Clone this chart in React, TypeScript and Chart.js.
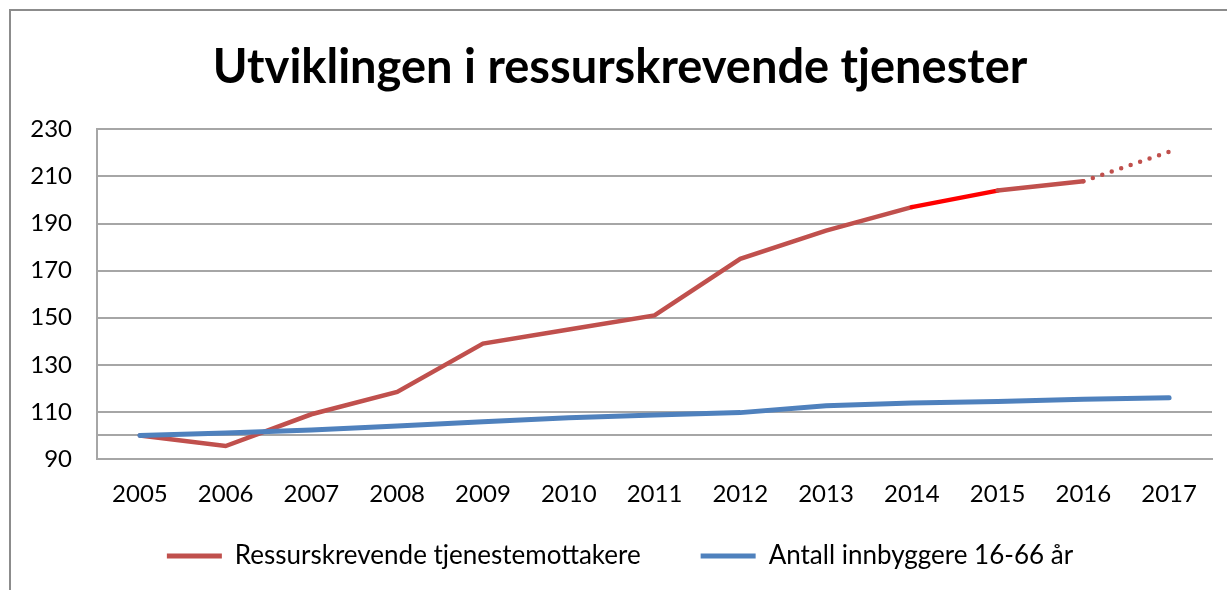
import React, { useEffect, useRef } from "react";
import { Chart, registerables } from "chart.js";

Chart.register(...registerables);

const years = ["2005", "2006", "2007", "2008", "2009", "2010", "2011", "2012", "2013", "2014", "2015", "2016", "2017"];
const ressurskrevende = [100, 95.5, 109, 118.5, 139, 145, 151, 175, 187, 197, 204, 208, 220.5];
const innbyggere = [100, 101, 102.3, 104, 105.8, 107.5, 108.7, 109.7, 112.6, 113.8, 114.4, 115.4, 116];
const yTicks = [90, 100, 110, 130, 150, 170, 190, 210, 230];
const yLabels = ["90", "", "110", "130", "150", "170", "190", "210", "230"];

const titleText = "Utviklingen i ressurskrevende tjenester";
const redName = "Ressurskrevende tjenestemottakere";
const blueName = "Antall innbyggere 16-66 år";

const RED = "#C0504D";
const BRIGHT_RED = "#FF0000";
const BLUE = "#4F81BD";
const GRID = "#A6A6A6";
const FONT = "Lato, 'Noto Sans', sans-serif";

export default function App() {
  const ref = useRef<HTMLCanvasElement | null>(null);
  useEffect(() => {
    if (!ref.current) return;
    const chart = new Chart(ref.current, {
      type: "line",
      data: {
        labels: years,
        datasets: [
          {
            label: redName,
            data: ressurskrevende,
            borderColor: RED,
            backgroundColor: RED,
            borderWidth: 4.5,
            pointRadius: 0,
            tension: 0,
            borderCapStyle: "round",
            order: 1,
            segment: {
              borderColor: (c: any) => (c.p0DataIndex === 9 ? BRIGHT_RED : undefined),
              borderDash: (c: any) => (c.p0DataIndex === 11 ? [0, 10] : undefined),
            },
          },
          {
            label: blueName,
            data: innbyggere,
            borderColor: BLUE,
            backgroundColor: BLUE,
            borderWidth: 5,
            pointRadius: 0,
            tension: 0,
            borderCapStyle: "round",
            order: 0,
          },
        ],
      },
      options: {
        animation: false,
        responsive: false,
        layout: { padding: { left: 17, right: 15, top: 0, bottom: 11 } },
        plugins: {
          tooltip: { enabled: false },
          title: {
            display: true,
            text: titleText,
            color: "#000",
            font: { family: FONT, size: 47, weight: "bold" },
            padding: { top: 29, bottom: 33 },
          },
          legend: {
            position: "bottom",
            labels: {
              color: "#000",
              font: { family: FONT, size: 26 },
              boxWidth: 55,
              boxHeight: 5,
              padding: 20,
              generateLabels: (ch: any) =>
                ch.data.datasets.map((d: any, i: number) => ({
                  text: i === 0 ? d.label + "      " : d.label,
                  fillStyle: d.borderColor,
                  strokeStyle: d.borderColor,
                  lineWidth: 0,
                  hidden: false,
                  datasetIndex: i,
                  fontColor: "#000",
                })),
            },
          },
        },
        scales: {
          x: {
            offset: true,
            grid: { display: false, drawTicks: false },
            border: { display: true, color: GRID, width: 2 },
            ticks: { color: "#000", font: { family: FONT, size: 24 }, padding: 21, maxRotation: 0, autoSkip: false },
            afterFit: (s: any) => {
              s.height = 64;
            },
          },
          y: {
            min: 90,
            max: 230,
            afterBuildTicks: (s: any) => {
              s.ticks = yTicks.map((v) => ({ value: v }));
            },
            grid: { color: GRID, lineWidth: 2, drawTicks: false },
            border: { display: true, color: GRID, width: 2 },
            ticks: {
              color: "#000",
              font: { family: FONT, size: 24 },
              padding: 25,
              autoSkip: false,
              callback: (v: any) => {
                const i = yTicks.indexOf(Number(v));
                return i >= 0 ? yLabels[i] : "";
              },
            },
            afterFit: (s: any) => {
              s.width = 69;
            },
          },
        },
      },
    });
    return () => chart.destroy();
  }, []);

  return (
    <div
      style={{
        position: "fixed",
        left: 9,
        top: 9,
        width: 1240,
        height: 600,
        border: "2px solid #8C8C8C",
        boxSizing: "border-box",
        background: "#fff",
      }}
    >
      <canvas ref={ref} width={1216} height={579} style={{ display: "block" }} />
    </div>
  );
}
